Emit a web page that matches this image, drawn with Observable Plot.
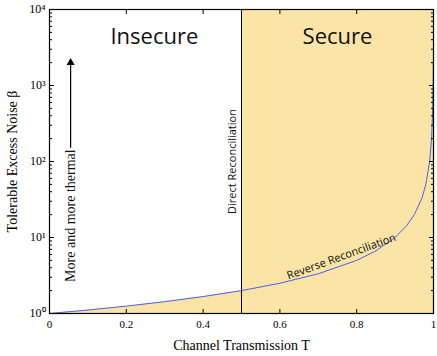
<!DOCTYPE html>
<html><head><meta charset="utf-8">
<script src="https://cdn.jsdelivr.net/npm/d3@7"></script>
<script src="https://cdn.jsdelivr.net/npm/@observablehq/plot@0.6"></script>
<style>body{margin:0;background:#fff} svg{display:block}</style>
</head><body><div id="chart"></div>
<script>
// Reverse-reconciliation curve
const transmission = [0, 0.1, 0.2, 0.3, 0.4, 0.5, 0.6, 0.7, 0.8, 0.85, 0.9, 0.93, 0.95, 0.97, 0.98, 0.99, 0.995, 0.998, 0.999, 0.9995];
const excessNoise  = [1, 1.11, 1.25, 1.43, 1.67, 2, 2.5, 3.33, 5, 6.67, 10, 14.3, 20, 33, 50, 100, 200, 500, 1000, 2000];
const directLimitT = 0.5;

const xTicks = [0, 0.2, 0.4, 0.6, 0.8, 1];
const xTickLabels = ["0", "0.2", "0.4", "0.6", "0.8", "1"];
const yTicks = [1, 10, 100, 1000, 10000];
const yTickLabels = ["10\u2070", "10\u00B9", "10\u00B2", "10\u00B3", "10\u2074"];
const yMinorTicks = [];
for (const d of [1, 10, 100, 1000]) for (let m = 2; m <= 9; m++) yMinorTicks.push(m * d);

const regionNames = ["Insecure", "Secure"];
const regionT = [0.273, 0.75];
const regionBeta = [4400, 4400];

const curve = transmission.map((t, i) => ({t, b: excessNoise[i]}));
const below = curve.filter(d => d.t <= directLimitT);

const sans = "'Open Sans', sans-serif";
const serif = "'Liberation Serif', 'Times New Roman', serif";

const chart = Plot.plot({
  width: 437, height: 356,
  marginLeft: 49, marginRight: 4, marginTop: 9, marginBottom: 43,
  style: {fontFamily: serif, fontSize: "11px", color: "#000", background: "#fff"},
  x: {domain: [0, 1]},
  y: {type: "log", domain: [1, 10000]},
  marks: [
    Plot.areaY(below, {x: "t", y1: 1, y2: "b", fill: "#fae5a6"}),
    Plot.rect([{x1: directLimitT, x2: 1}], {x1: "x1", x2: "x2", y1: 1, y2: 10000, fill: "#fae5a6"}),
    Plot.line(curve, {x: "t", y: "b", stroke: "#4a5ef5", strokeWidth: 1}),
    Plot.ruleX([directLimitT], {stroke: "#000", strokeWidth: 1}),
    // tick labels
    Plot.axisX({anchor: "bottom", ticks: xTicks, tickSize: 0, tickPadding: 7, tickFormat: (d, i) => xTickLabels[i], fontSize: 11, label: null}),
    Plot.text(yTicks, {y: d => d, frameAnchor: "left", dx: -4, textAnchor: "end", text: (d, i) => yTickLabels[i], fontFamily: serif, fontSize: 12}),
    // inward ticks
    Plot.axisX({anchor: "bottom", ticks: xTicks, tickSize: -4, tickFormat: () => "", label: null}),
    Plot.axisX({anchor: "top", ticks: xTicks, tickSize: -4, tickFormat: () => "", label: null}),
    Plot.axisY({anchor: "left", ticks: yTicks, tickSize: -5, tickFormat: () => "", label: null}),
    Plot.axisY({anchor: "right", ticks: yTicks, tickSize: -5, tickFormat: () => "", label: null}),
    Plot.axisY({anchor: "left", ticks: yMinorTicks, tickSize: -3, tickFormat: () => "", label: null}),
    Plot.axisY({anchor: "right", ticks: yMinorTicks, tickSize: -3, tickFormat: () => "", label: null}),
    Plot.frame({stroke: "#000", strokeWidth: 1.2}),
    // annotations
    Plot.text(regionNames, {x: (d, i) => regionT[i], y: (d, i) => regionBeta[i], text: d => d, fontFamily: sans, fontSize: 22, fill: "#111"}),
    Plot.text(["Direct Reconciliation"], {x: [0.477], y: [100], text: d => d, rotate: -90, fontFamily: sans, fontSize: 11, fill: "#111"}),
    Plot.text(["Reverse Reconciliation"], {x: [0.76], y: [5.6], text: d => d, rotate: -20, fontFamily: sans, fontSize: 11, fill: "#111"}),
    Plot.text(["More and more thermal"], {x: [0.055], y: [19.4], text: d => d, rotate: -90, fontFamily: serif, fontSize: 14, fill: "#111"}),
    Plot.link([{b1: 152, b2: 1900}], {x1: 0.055, x2: 0.055, y1: "b1", y2: "b2", stroke: "#000", strokeWidth: 1.2}),
    Plot.dot([2000], {x: 0.055, y: d => d, symbol: "triangle", r: 3, fill: "#000", stroke: null}),
    // axis titles
    Plot.text(["Channel Transmission T"], {frameAnchor: "bottom", dy: 36, text: d => d, fontFamily: serif, fontSize: 14}),
    Plot.text(["Tolerable Excess Noise \u03B2"], {frameAnchor: "left", textAnchor: "middle", dx: -37, rotate: -90, text: d => d, fontFamily: serif, fontSize: 14})
  ]
});
document.getElementById("chart").appendChild(chart);
</script>
</body></html>
